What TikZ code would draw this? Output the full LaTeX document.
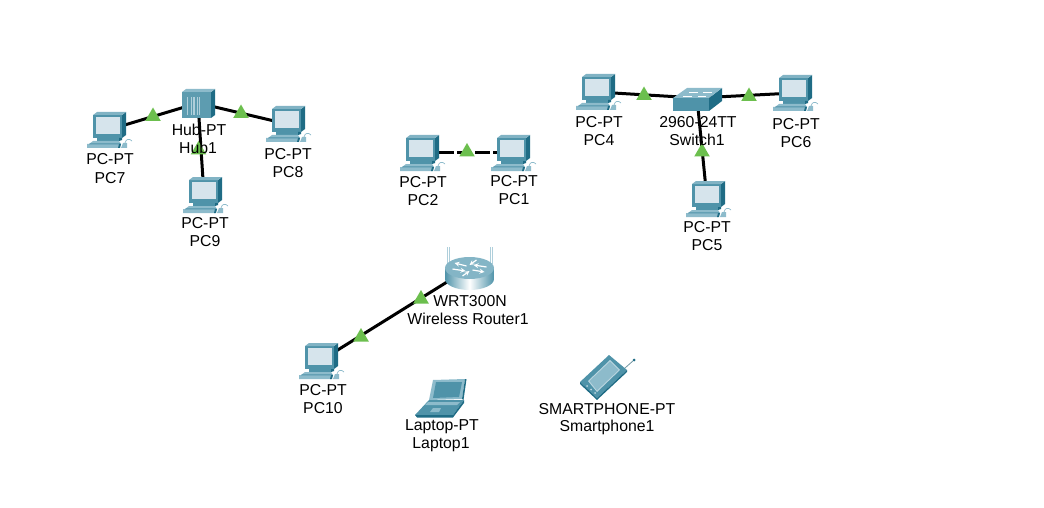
\documentclass[tikz,border=0pt]{standalone}
\usepackage{fontspec}
\setmainfont{Liberation Sans}
\usetikzlibrary{shapes.geometric}
\definecolor{tealmid}{HTML}{4F93A9}
\definecolor{tealdark}{HTML}{1F6C85}
\definecolor{teallight}{HTML}{8DBBCB}
\definecolor{screenc}{HTML}{D6E4EC}
\definecolor{lightg}{HTML}{6CBF4E}
\tikzset{
  x=1pt,y=-1pt,
  link/.style={draw=black,line width=3pt},
  dashlink/.style={link,dash pattern=on 15pt off 3pt},
  lamp/.style={regular polygon,regular polygon sides=3,fill=lightg,draw=none,minimum size=18pt,inner sep=0pt},
  lab/.style={font=\fontsize{15.8}{18}\selectfont,text=black,inner sep=0pt,align=center,anchor=center},
  pcicon/.pic={
    \fill[tealmid] (-15,-15) rectangle (14,8);
    \fill[tealdark] (14,-15) -- (18,-18) -- (18,5) -- (14,8) -- cycle;
    \fill[teallight!80!tealmid] (-15,-15) -- (-11,-18) -- (18,-18) -- (14,-15) -- cycle;
    \fill[screenc] (-12,-13) rectangle (12,4);
    \fill[tealmid] (-11,8) rectangle (11,11);
    \fill[tealdark] (11,8) -- (14,8) -- (14,10) -- (11,11) -- cycle;
    \fill[teallight] (-15,11) -- (11,11) -- (13,14) -- (-19,14) -- cycle;
    \fill[teallight] (-21,14) -- (13,14) -- (11,18) -- (-21,18) -- cycle;
    \fill[tealmid] (-18,13.4) -- (12,13.4) -- (12,14.4) -- (-19,14.4) -- cycle;
    \fill[tealdark] (11,14) -- (13,14) -- (12,18) -- (10,18) -- cycle;
    \fill[teallight] (15,13) -- (19,13) -- (19,18) -- (13,18) -- cycle;
    \draw[teallight,line width=.7pt] (17,13) .. controls (18,9) and (21,8) .. (24,11);
  },
  hubicon/.pic={
    \fill[tealmid!92!white] (-16,-11) rectangle (13,15);
    \fill[tealdark] (13,-11) -- (17,-14) -- (17,12) -- (13,15) -- cycle;
    \fill[teallight] (-16,-11) -- (-12,-14) -- (17,-14) -- (13,-11) -- cycle;
    \foreach \xx/\ww in {-10.5/1.4,-7/1,-4/1.4,-1/1,1.5/1}{
      \draw[teallight!70!white,line width=\ww pt] (\xx,-6) -- (\xx,12);
    }
  },
  switchicon/.pic={
    \fill[tealmid] (-24,0) rectangle (12,13);
    \fill[tealdark] (12,0) -- (25,-10) -- (25,3) -- (12,13) -- cycle;
    \fill[teallight] (-24,0) -- (-10,-10) -- (25,-10) -- (12,0) -- cycle;
    \draw[white,line width=.8pt] (-8,-6) -- (1,-6) (6,-6) -- (15,-6) (-14,-2) -- (-5,-2) (1,-2) -- (9,-2);
  },
  routericon/.pic={
    \draw[teallight!70!white,line width=1pt] (-22,-21) -- (-22,-4) (-20,-21) -- (-20,-4);
    \draw[teallight!70!white,line width=1pt] (21,-21) -- (21,-4) (23,-21) -- (23,-4);
    \shade[left color=tealmid,right color=tealmid,middle color=white]
      (-24.5,0) -- (-24.5,11) arc[start angle=180,end angle=0,x radius=24.5,y radius=11] -- (24.5,0) -- cycle;
    \fill[teallight!85!tealmid] (0,0) ellipse [x radius=24.5pt,y radius=11pt];
    \draw[white,line width=1.2pt,-stealth] (-17,1) -- (-4,3);
    \draw[white,line width=1.2pt,-stealth] (17,-1) -- (4,-3);
    \draw[white,line width=1.2pt,-stealth] (3,2) -- (15,4);
    \draw[white,line width=1.2pt,-stealth] (-3,-2) -- (-15,-5);
    \draw[white,line width=1.2pt,-stealth] (-7,8) -- (0,3);
    \draw[white,line width=1.2pt,-stealth] (7,-8) -- (0,-3);
  },
  laptopicon/.pic={
    \fill[teallight] (-18,-17) -- (14,-18) -- (11,2) -- (-22,3) -- cycle;
    \fill[tealdark] (14,-18) -- (15.5,-18) -- (12.5,3) -- (11,2) -- cycle;
    \fill[tealmid] (-15,-15) -- (11,-15) -- (8,0) -- (-18,1) -- cycle;
    \fill[tealmid] (-22,3) -- (13,3) -- (2,18) -- (-36,18) -- cycle;
    \fill[teallight] (-23,5) -- (9,5) -- (6,8) -- (-26,8) -- cycle;
    \fill[teallight] (-18,11) -- (-10,11) -- (-12,15) -- (-21,15) -- cycle;
    \fill[tealdark] (-36,18) -- (2,18) -- (13,3) -- (13,6) -- (2,20.5) -- (-34,20.5) -- cycle;
  },
  phoneicon/.pic={
    \draw[teallight!80!black,line width=.8pt] (18,-15) -- (27,-23);
    \fill[tealdark] (27,-23) circle[radius=1.5pt];
    \fill[tealmid] (-27,-1) -- (2,-28) -- (20,-13) -- (-10,15) -- cycle;
    \fill[tealdark] (-27,-1) -- (-10,15) -- (20,-13) -- (20,-11) -- (-10,17) -- (-27,1) -- cycle;
    \fill[teallight!60!white] (-19,-2) -- (3,-23) -- (13,-13) -- (-10,9) -- cycle;
    \fill[teallight] (-17.5,-2) -- (3,-21.5) -- (11.5,-13) -- (-10,7.5) -- cycle;
    \fill[teallight!60!white] (-20,3) circle[radius=1pt] (-16,6.5) circle[radius=1pt] (-12,10) circle[radius=1pt];
  }
}
\begin{document}
\begin{tikzpicture}
\useasboundingbox (0,0) rectangle (1044,508);
% anchors of the devices
\coordinate (pc1) at (512,153);
\coordinate (pc2) at (421,153);
\coordinate (pc4) at (597,92);
\coordinate (pc5) at (707,199);
\coordinate (pc6) at (794,93);
\coordinate (pc7) at (108,130);
\coordinate (pc8) at (287,124);
\coordinate (pc9) at (204,195);
\coordinate (pc10) at (320,361);
\coordinate (hub) at (198,103);
\coordinate (sw) at (697,98);
\coordinate (rt) at (469.5,268);
\coordinate (lap) at (451,397);
\coordinate (ph) at (607,383);
% connectors
\draw[link] (pc7) -- (hub);
\draw[link] (hub) -- (pc8);
\draw[link] (hub) -- (pc9);
\draw[dashlink] (pc2) -- (pc1);
\draw[link] (pc4) -- (sw);
\draw[link] (sw) -- (pc6);
\draw[link] (sw) -- (pc5);
\draw[link] (rt) -- (pc10);
% link lights
\node[lamp] (l1) at (153,116.5) {};
\node[lamp] (l2) at (241,113.5) {};
\node[lamp] (l3) at (198.5,150) {};
\node[lamp] (l4) at (467,152) {};
\node[lamp] (l5) at (644,95.5) {};
\node[lamp] (l6) at (749,96.5) {};
\node[lamp] (l7) at (702,152) {};
\node[lamp] (l8) at (421,299) {};
\node[lamp] (l9) at (361,337) {};
% icons
\foreach \c in {pc1,pc2,pc4,pc5,pc6,pc7,pc8,pc9,pc10}{ \pic at (\c) {pcicon}; }
\pic at (hub) {hubicon};
\pic at (sw) {switchicon};
\pic at (rt) {routericon};
\pic at (lap) {laptopicon};
\pic at (ph) {phoneicon};
% labels
\node[lab] (t7a) at (110,159) {PC-PT};
\node[lab] (t7b) at (110,178) {PC7};
\node[lab] (t8a) at (288,154) {PC-PT};
\node[lab] (t8b) at (288,172) {PC8};
\node[lab] (t9a) at (205,223) {PC-PT};
\node[lab] (t9b) at (205,241) {PC9};
\node[lab] (t2a) at (423,182) {PC-PT};
\node[lab] (t2b) at (423,200) {PC2};
\node[lab] (t1a) at (514,181) {PC-PT};
\node[lab] (t1b) at (514,199) {PC1};
\node[lab] (t4a) at (599,122) {PC-PT};
\node[lab] (t4b) at (599,140) {PC4};
\node[lab] (t6a) at (796,124) {PC-PT};
\node[lab] (t6b) at (796,142) {PC6};
\node[lab] (t5a) at (707,227) {PC-PT};
\node[lab] (t5b) at (707,245) {PC5};
\node[lab] (t10a) at (323,390) {PC-PT};
\node[lab] (t10b) at (323,408) {PC10};
\node[lab] (thuba) at (199,130) {Hub-PT};
\node[lab] (thubb) at (198,148) {Hub1};
\node[lab] (tswa) at (698,122) {2960-24TT};
\node[lab] (tswb) at (697,140) {Switch1};
\node[lab] (trta) at (470,301) {WRT300N};
\node[lab] (trtb) at (468,319) {Wireless Router1};
\node[lab] (tlapa) at (442,427) {Laptop-PT};
\node[lab] (tlapb) at (441,445) {Laptop1};
\node[lab] (tpha) at (607,409) {SMARTPHONE-PT};
\node[lab] (tphb) at (607,427) {Smartphone1};
\end{tikzpicture}
\end{document}
